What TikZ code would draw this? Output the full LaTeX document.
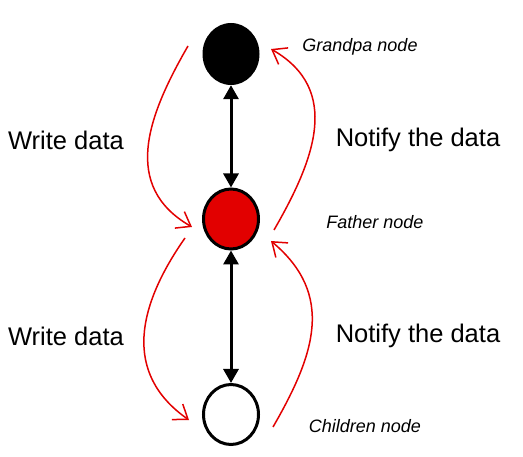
\documentclass[tikz,border=0pt]{standalone}
\usepackage{fontspec}
\setmainfont{Liberation Sans}
\usetikzlibrary{arrows.meta, shapes.geometric}
\definecolor{flowred}{RGB}{226,0,0}

\begin{document}
\begin{tikzpicture}[
    x=1pt, y=1pt,
    member/.style={ellipse, draw, line width=3pt, minimum width=55pt, minimum height=60pt, inner sep=0pt},
    link/.style={line width=3pt, {Triangle[length=14pt,width=15pt]}-{Triangle[length=14pt,width=15pt]}},
    flow/.style={flowred, line width=1.5pt, -{Straight Barb[length=13pt,width=19pt]}},
    bigtext/.style={font=\fontsize{25.5}{30}\selectfont, inner sep=0pt},
    nodetag/.style={font=\fontsize{18}{21}\selectfont\itshape, inner sep=0pt}
]
\useasboundingbox (0,0) rectangle (523,456);

\node[ellipse, fill=black, minimum width=57pt, minimum height=62pt, inner sep=0pt] (grandpa) at (231,402) {};
\node[member, fill=flowred] (father) at (231,237) {};
\node[member, fill=white] (children) at (231,41.5) {};

\node[nodetag] (gtag) at (360,409) {Grandpa node};
\node[nodetag] (ftag) at (375,234) {Father node};
\node[nodetag] (ctag) at (365,30) {Children node};

\draw[link] (grandpa) -- (father);
\draw[link] (father) -- (children);

% grandpa <-> father
\draw[flow] ([shift={(-43,8)}]grandpa.center) to[out=240, in=150, looseness=1.15] ([shift={(-39,-8)}]father.center);
\draw[flow] ([shift={(43,-11)}]father.center) to[out=60, in=-30, looseness=1.15] ([shift={(40,5)}]grandpa.center);

% father <-> children
\draw[flow] ([shift={(-46,-19)}]father.center) to[out=235, in=145, looseness=1.15] ([shift={(-42,-5.5)}]children.center);
\draw[flow] ([shift={(42,-12.5)}]children.center) to[out=60, in=-40, looseness=1.15] ([shift={(40,-22)}]father.center);

\node[bigtext] (write1) at (66,316) {Write data};
\node[bigtext] (notify1) at (418,316) {Notify the data};
\node[bigtext] (write2) at (66,120) {Write data};
\node[bigtext] (notify2) at (418,120) {Notify the data};

\end{tikzpicture}
\end{document}
